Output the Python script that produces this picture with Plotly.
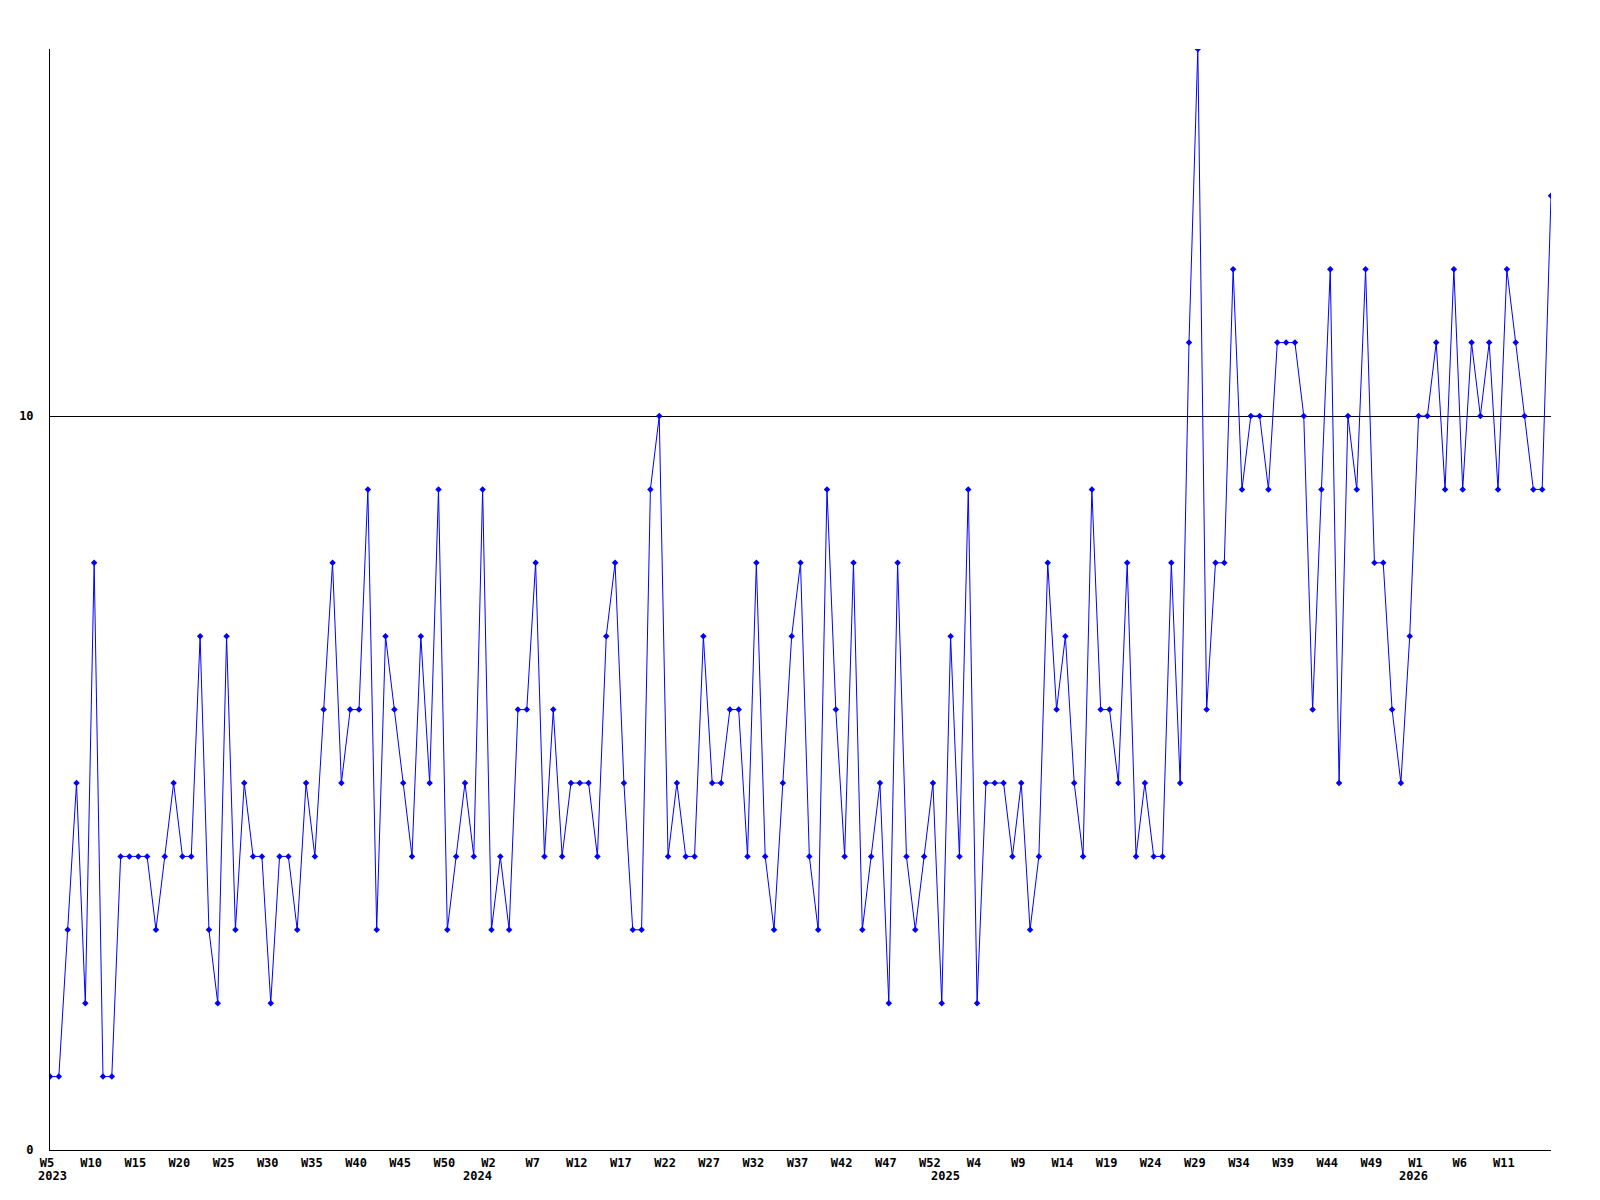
import plotly.graph_objects as go

# Contagem semanal, de 2023-W05 até 2026-W16
inicio_ano = 2023
primeira_semana = 5
semanas_por_ano = {2023: 53, 2024: 53, 2025: 53, 2026: 16}

valores = [
    1, 1, 3, 5, 2, 8, 1, 1, 4, 4, 4, 4, 3, 4, 5, 4, 4, 7, 3, 2,
    7, 3, 5, 4, 4, 2, 4, 4, 3, 5, 4, 6, 8, 5, 6, 6, 9, 3, 7, 6,
    5, 4, 7, 5, 9, 3, 4, 5, 4, 9, 3, 4, 3, 6, 6, 8, 4, 6, 4, 5,
    5, 5, 4, 7, 8, 5, 3, 3, 9, 10, 4, 5, 4, 4, 7, 5, 5, 6, 6, 4,
    8, 4, 3, 5, 7, 8, 4, 3, 9, 6, 4, 8, 3, 4, 5, 2, 8, 4, 3, 4,
    5, 2, 7, 4, 9, 2, 5, 5, 5, 4, 5, 3, 4, 8, 6, 7, 5, 4, 9, 6,
    6, 5, 8, 4, 5, 4, 4, 8, 5, 11, 15, 6, 8, 8, 12, 9, 10, 10, 9, 11,
    11, 11, 10, 6, 9, 12, 5, 10, 9, 12, 8, 8, 6, 5, 7, 10, 10, 11, 9, 12,
    9, 11, 10, 11, 9, 12, 11, 10, 9, 9, 13,
]

y_ticks = [0, 10]

# Monta os rótulos das semanas
semanas = []
anos = []
for ano, total in semanas_por_ano.items():
    comeco = primeira_semana if ano == inicio_ano else 1
    for w in range(comeco, total + 1):
        semanas.append(f"{ano}-W{w:02d}")
        anos.append(ano)

idx_ticks = list(range(0, 166, 5))
tick_vals = [semanas[i] for i in idx_ticks]
tick_text = ["W" + str(int(semanas[i].split("-W")[1])) for i in idx_ticks]

fig = go.Figure()
fig.add_trace(go.Scatter(
    x=semanas, y=valores, mode="lines+markers",
    line=dict(color="#0000ff", width=1),
    marker=dict(color="#0000ff", size=5, symbol="diamond"),
    showlegend=False,
))

fonte = dict(family="DejaVu Sans Mono", size=12, color="black", weight="bold")

# Ano embaixo da primeira semana de cada ano
for ano in semanas_por_ano:
    i = anos.index(ano)
    if i == 0:
        pos = dict(xanchor="left", xshift=-14)
    else:
        pos = dict(xanchor="center", xshift=-5)
    fig.add_annotation(
        x=semanas[i], xref="x", y=0, yref="paper",
        text=str(ano), showarrow=False, font=fonte,
        yanchor="top", yshift=-17, **pos,
    )

# o body da página tem 8px de margem, por isso as margens descontam isso
fig.update_layout(
    width=1600, height=1200,
    paper_bgcolor="white", plot_bgcolor="white",
    margin=dict(l=42, r=57, t=41, b=58),
    font=fonte,
    xaxis=dict(
        type="category", automargin=False,
        range=[0, len(semanas) - 1],
        tickmode="array", tickvals=tick_vals, ticktext=tick_text,
        ticks="", showgrid=False, zeroline=False,
        showline=True, linecolor="black", linewidth=1,
        tickfont=fonte, ticklabelstandoff=2, ticklabelshift=-3,
    ),
    yaxis=dict(
        range=[0, 15], automargin=False,
        tickmode="array", tickvals=y_ticks,
        ticks="", showgrid=True, gridcolor="black", gridwidth=1,
        zeroline=False,
        showline=True, linecolor="black", linewidth=1,
        tickfont=fonte, ticklabelstandoff=13,
    ),
)

fig.write_html("out.html")
